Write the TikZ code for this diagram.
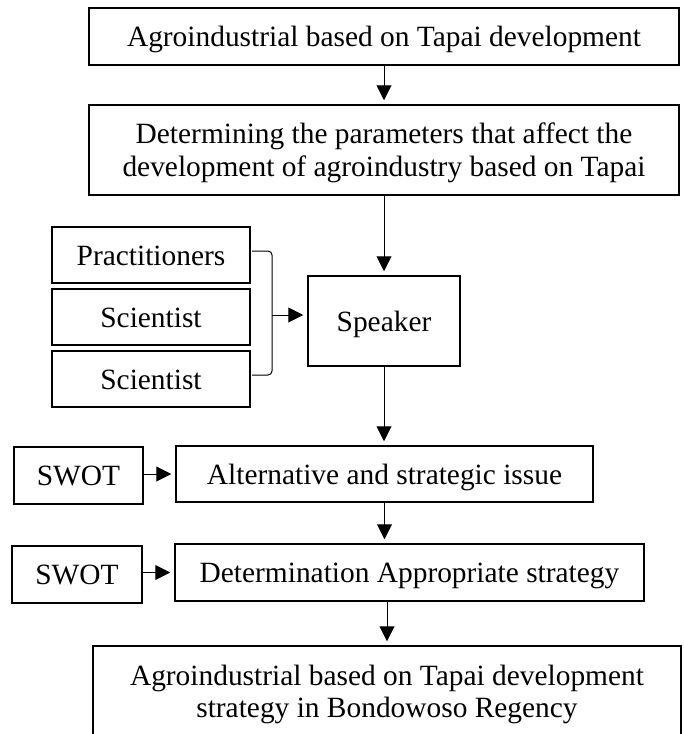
\documentclass[tikz,border=0pt]{standalone}
\usepackage{fontspec}
\setmainfont{Liberation Serif}
\usetikzlibrary{arrows.meta}
\tikzset{
  box/.style={draw, line width=1.5pt, inner sep=0pt, font=\fontsize{29.4}{32.5}\selectfont,
    text height=20pt, text depth=0pt},
  twoline/.style={align=center, text height=52.5pt, text depth=0pt},
  arr/.style={line width=1pt, -{Triangle[length=15pt,width=15pt]}, shorten >=4pt},
  brk/.style={line width=1pt, rounded corners=4pt}
}
\begin{document}
\begin{tikzpicture}[x=1pt,y=-1pt]
\useasboundingbox (0,0) rectangle (684,734);
\node[box, minimum width=590pt, minimum height=57pt] (top) at (384,36.5) {Agroindustrial based on Tapai development};
\node[box, twoline, minimum width=590pt, minimum height=90pt] (param) at (384,150) {Determining the parameters that affect the\\development of agroindustry based on Tapai};
\node[box, minimum width=198pt, minimum height=56pt] (prac) at (151,255) {Practitioners};
\node[box, minimum width=198pt, minimum height=56pt] (sci1) at (151,317) {Scientist};
\node[box, minimum width=198pt, minimum height=56pt] (sci2) at (151,379) {Scientist};
\node[box, minimum width=152pt, minimum height=90pt] (speaker) at (384,321) {Speaker};
\node[box, minimum width=129pt, minimum height=57pt] (swot1) at (78.5,475.5) {SWOT};
\node[box, minimum width=417pt, minimum height=56pt] (alt) at (384.5,474) {Alternative and strategic issue};
\node[box, minimum width=130pt, minimum height=57pt] (swot2) at (77,574.5) {SWOT};
\node[box, minimum width=469pt, minimum height=57pt] (det) at (409.5,572.5) {Determination Appropriate strategy};
\node[box, twoline, minimum width=588pt, minimum height=90.5pt] (final) at (387,691.25) {Agroindustrial based on Tapai development\\strategy in Bondowoso Regency};
\coordinate (brT) at (252,251);
\coordinate (brB) at (252,375);
\coordinate (brM) at (272,315);
\draw[brk] (brT) -| (brM) |- (brB);
\draw[arr] (top.south) -- (param.north);
\draw[arr] (param.south) -- (speaker.north);
\draw[arr] (brM) -- (brM -| speaker.west);
\draw[arr] (speaker.south) -- (speaker.south |- alt.north);
\draw[arr] (alt.west -| swot1.east) -- (alt.west);
\draw[arr] (alt.south) -- (alt.south |- det.north);
\draw[arr] (det.west -| swot2.east) -- (det.west);
\draw[arr] (det.south -| final.north) -- (final.north);
\end{tikzpicture}
\end{document}
